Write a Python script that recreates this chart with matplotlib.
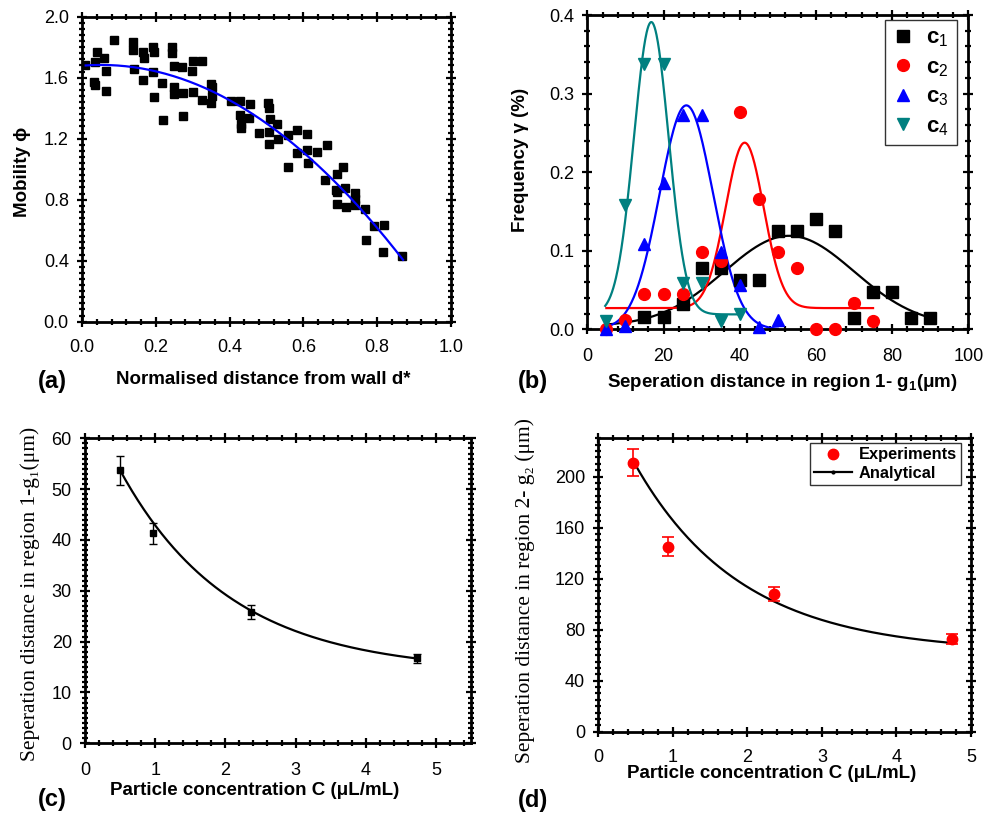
import numpy as np
import matplotlib
matplotlib.use("Agg")
import matplotlib.pyplot as plt
from matplotlib.ticker import MultipleLocator, FormatStrFormatter
from matplotlib.lines import Line2D

plt.rcParams['font.family'] = ['Liberation Sans', 'DejaVu Sans']
plt.rcParams['mathtext.fontset'] = 'custom'
plt.rcParams['mathtext.rm'] = 'Liberation Sans'
plt.rcParams['mathtext.bf'] = 'Liberation Sans:bold'
plt.rcParams['mathtext.it'] = 'Liberation Sans:italic'

# ---------------- (a) mobility data ----------------
a_d = [0.008, 0.035, 0.040, 0.060, 0.064, 0.033, 0.035, 0.064, 0.087, 0.139,
       0.139, 0.164, 0.169, 0.193, 0.195, 0.142, 0.192, 0.164, 0.195, 0.218,
       0.219, 0.243, 0.243, 0.249, 0.272, 0.297, 0.300, 0.324, 0.248, 0.248,
       0.273, 0.300, 0.273, 0.325, 0.350, 0.351, 0.351, 0.350, 0.403, 0.428,
       0.455, 0.428, 0.453, 0.430, 0.430, 0.481, 0.505, 0.508, 0.510, 0.529,
       0.507, 0.532, 0.507, 0.559, 0.584, 0.611, 0.584, 0.611, 0.636, 0.612,
       0.559, 0.663, 0.659, 0.708, 0.690, 0.688, 0.690, 0.714, 0.690, 0.715,
       0.741, 0.741, 0.741, 0.767, 0.769, 0.791, 0.818, 0.817, 0.868]
a_phi = [1.683, 1.705, 1.766, 1.727, 1.646, 1.574, 1.552, 1.513, 1.847, 1.836,
         1.782, 1.766, 1.731, 1.803, 1.766, 1.655, 1.639, 1.585, 1.475, 1.567,
         1.323, 1.800, 1.760, 1.679, 1.672, 1.644, 1.710, 1.710, 1.541, 1.493,
         1.498, 1.504, 1.351, 1.454, 1.557, 1.537, 1.480, 1.432, 1.447, 1.447,
         1.426, 1.355, 1.334, 1.294, 1.268, 1.235, 1.432, 1.399, 1.327, 1.296,
         1.246, 1.198, 1.163, 1.224, 1.257, 1.231, 1.104, 1.126, 1.115, 1.039,
         1.012, 1.159, 0.929, 1.016, 0.969, 0.864, 0.852, 0.875, 0.772, 0.750,
         0.842, 0.805, 0.765, 0.739, 0.536, 0.630, 0.634, 0.459, 0.431]
a_fit_range = (0.01, 0.87)
a_fit_degree = 2

# ---------------- (b) frequency distributions ----------------
b_x1 = [15, 20, 25, 30, 35, 40, 45, 50, 55, 60, 65, 70, 75, 80, 85, 90]
b_y1 = [0.016, 0.016, 0.032, 0.078, 0.078, 0.063, 0.063, 0.125, 0.125, 0.140,
        0.125, 0.015, 0.047, 0.047, 0.015, 0.015]
b_x2 = [5, 10, 15, 20, 25, 30, 35, 40, 45, 50, 55, 60, 65, 70, 75]
b_y2 = [0.001, 0.012, 0.045, 0.045, 0.045, 0.099, 0.087, 0.277, 0.166, 0.099,
        0.078, 0.0, 0.0, 0.033, 0.011]
b_x3 = [5, 10, 15, 20, 25, 30, 35, 40, 45, 50]
b_y3 = [0.0, 0.004, 0.109, 0.186, 0.273, 0.273, 0.099, 0.056, 0.003, 0.012]
b_x4 = [5, 10, 15, 20, 25, 30, 35, 40]
b_y4 = [0.010, 0.158, 0.338, 0.338, 0.059, 0.059, 0.010, 0.020]
# Gaussian fit parameters (y0, xc, sigma, amplitude, x-start, x-end)
b_fit1 = (0.004, 53.0, 17.0, 0.115, 5, 90)
b_fit2 = (0.027, 41.3, 5.0, 0.2105, 5, 75)
b_fit3 = (0.0, 26.0, 7.0, 0.285, 5, 50)
b_fit4 = (0.019, 16.8, 4.55, 0.372, 4.7, 40)
b_labels = ['c$_1$', 'c$_2$', 'c$_3$', 'c$_4$']

# ---------------- (c) region 1 separation ----------------
c_conc = [0.5, 0.97, 2.37, 4.73]
c_g1 = [53.7, 41.3, 25.9, 16.7]
c_err = [2.8, 2.1, 1.4, 0.9]
c_fit = (14.0, 54.6, 1.57)  # y0, A, t  (exponential decay)

# ---------------- (d) region 2 separation ----------------
d_conc = [0.47, 0.94, 2.36, 4.74]
d_g2 = [211.0, 145.0, 107.8, 72.7]
d_err = [10.7, 7.6, 5.6, 3.9]
d_fit = (62.0, 208.5, 1.43)

TEAL = '#008080'
W = 984
H = 813
fig = plt.figure(figsize=(W / 100, H / 100), dpi=100)


def ax_at(l, t, r, b):
    return fig.add_axes([l / W, 1 - b / H, (r - l) / W, (b - t) / H])


def style(ax, xmaj, xmin, ymaj, ymin, xpad=9):
    for s in ax.spines.values():
        s.set_linewidth(2.0)
    ax.xaxis.set_major_locator(MultipleLocator(xmaj))
    ax.xaxis.set_minor_locator(MultipleLocator(xmin))
    ax.yaxis.set_major_locator(MultipleLocator(ymaj))
    ax.yaxis.set_minor_locator(MultipleLocator(ymin))
    ax.tick_params(which='both', direction='inout', top=True, right=True,
                   labelsize=13, width=1.6)
    ax.tick_params(which='major', length=7)
    ax.tick_params(which='minor', length=4)
    ax.tick_params(axis='x', which='major', pad=xpad)
    ax.tick_params(axis='y', which='major', pad=6)


XL = dict(fontsize=13.5, fontweight='bold')
SERIF = ['Liberation Serif', 'DejaVu Serif']

# ---- (a)
ax = ax_at(82, 16.7, 451, 321.7)
ax.plot(a_d, a_phi, 's', color='black', markersize=6, linestyle='none')
coef = np.polyfit(a_d, a_phi, a_fit_degree)
xx = np.linspace(*a_fit_range, 200)
ax.plot(xx, np.polyval(coef, xx), color='#0000ff', lw=1.6)
ax.set_xlim(0, 1.0)
ax.set_ylim(0, 2.0)
style(ax, 0.2, 0.04, 0.4, 0.04, xpad=9)
ax.xaxis.set_major_formatter(FormatStrFormatter('%.1f'))
ax.yaxis.set_major_formatter(FormatStrFormatter('%.1f'))
ax.set_xlabel('Normalised distance from wall d*', **XL)
ax.xaxis.set_label_coords(0.492, -0.16)
ax.set_ylabel('Mobility ϕ', **XL)
ax.yaxis.set_label_coords(-0.138, 0.49)
fig.text(52 / W, 1 - 381 / H, '(a)', fontsize=17, fontweight='bold', ha='center', va='center')

# ---- (b)
ax = ax_at(587.3, 15, 968.3, 329.3)
series = [(b_x1, b_y1, b_fit1, 's', 'black', 8),
          (b_x2, b_y2, b_fit2, 'o', 'red', 8.5),
          (b_x3, b_y3, b_fit3, '^', 'blue', 9),
          (b_x4, b_y4, b_fit4, 'v', TEAL, 9)]
handles = []
for (xs, ys, fit, mk, col, ms), lab in zip(series, b_labels):
    y0, xc, sg, amp, x0, x1 = fit
    xx = np.linspace(x0, x1, 300)
    ax.plot(xx, y0 + amp * np.exp(-(xx - xc) ** 2 / (2 * sg ** 2)), color=col, lw=1.6, zorder=2)
for (xs, ys, fit, mk, col, ms), lab in zip(series, b_labels):
    h, = ax.plot(xs, ys, mk, color=col, markersize=ms, linestyle='none', label=lab,
                 clip_on=False, zorder=3)
    handles.append(h)
ax.set_xlim(0, 100)
ax.set_ylim(0, 0.4)
style(ax, 20, 4, 0.1, 0.02, xpad=10)
ax.yaxis.set_major_formatter(FormatStrFormatter('%.1f'))
ax.set_xlabel('Seperation distance in region 1- $\\mathbf{g_1}$(μm)', **XL)
ax.xaxis.set_label_coords(0.512, -0.135)
ax.set_ylabel('Frequency γ (%)', **XL)
ax.yaxis.set_label_coords(-0.152, 0.54)
leg = ax.legend(handles=handles, loc='upper right', bbox_to_anchor=(0.970, 0.984),
                borderaxespad=0, frameon=True, fancybox=False, edgecolor='black',
                handletextpad=0.6, labelspacing=0.35, borderpad=0.35, handlelength=0.9,
                prop={'weight': 'bold', 'size': 16})
leg.get_frame().set_linewidth(1.0)
fig.text(533 / W, 1 - 381 / H, '(b)', fontsize=17, fontweight='bold', ha='center', va='center')

# ---- (c)
ax = ax_at(85, 438.3, 471, 743.3)
xx = np.linspace(min(c_conc), max(c_conc), 200)
ax.plot(xx, c_fit[0] + c_fit[1] * np.exp(-xx / c_fit[2]), color='black', lw=1.6)
ax.errorbar(c_conc, c_g1, yerr=c_err, fmt='s', color='black', markersize=5,
            capsize=3, elinewidth=1.0, capthick=1.0)
ax.set_xlim(0, 5.5)
ax.set_ylim(0, 60)
style(ax, 1, 0.2, 10, 1, xpad=10)
ax.set_xlabel('Particle concentration C (μL/mL)', **XL)
ax.xaxis.set_label_coords(0.44, -0.126)
ax.set_ylabel('Seperation distance in region 1-g₁(μm)', fontsize=15.5,
              family=SERIF)
ax.yaxis.set_label_coords(-0.116, 0.49)
fig.text(52 / W, 1 - 799 / H, '(c)', fontsize=17, fontweight='bold', ha='center', va='center')

# ---- (d)
ax = ax_at(598.3, 438.3, 971, 731.7)
xx = np.linspace(0.5, max(d_conc), 200)
ax.plot(xx, d_fit[0] + d_fit[1] * np.exp(-xx / d_fit[2]), color='black', lw=1.6)
ax.errorbar(d_conc, d_g2, yerr=d_err, fmt='o', color='red', markersize=7.5,
            capsize=4, elinewidth=1.2, capthick=1.2)
ax.set_xlim(0, 5)
ax.set_ylim(0, 230)
style(ax, 1, 0.2, 40, 5, xpad=9)
ax.set_xlabel('Particle concentration C (μL/mL)', **XL)
ax.xaxis.set_label_coords(0.466, -0.113)
ax.set_ylabel('Seperation distance in region 2- g₂ (μm)', fontsize=15.5,
              family=SERIF)
ax.yaxis.set_label_coords(-0.171, 0.48)
h_exp = Line2D([], [], marker='o', color='red', linestyle='none', markersize=7.5)
h_ana = Line2D([], [], marker='o', color='black', lw=1.6, markersize=2)
leg = ax.legend([h_exp, h_ana], ['Experiments', 'Analytical'], loc='upper right',
                bbox_to_anchor=(0.973, 0.983), borderaxespad=0, frameon=True, fancybox=False,
                edgecolor='black', prop={'weight': 'bold', 'size': 11.8},
                handlelength=2.3, handletextpad=0.4, labelspacing=0.2, borderpad=0.25)
leg.get_frame().set_linewidth(1.0)
fig.text(533 / W, 1 - 800 / H, '(d)', fontsize=17, fontweight='bold', ha='center', va='center')

fig.savefig('out.png', dpi=100)
